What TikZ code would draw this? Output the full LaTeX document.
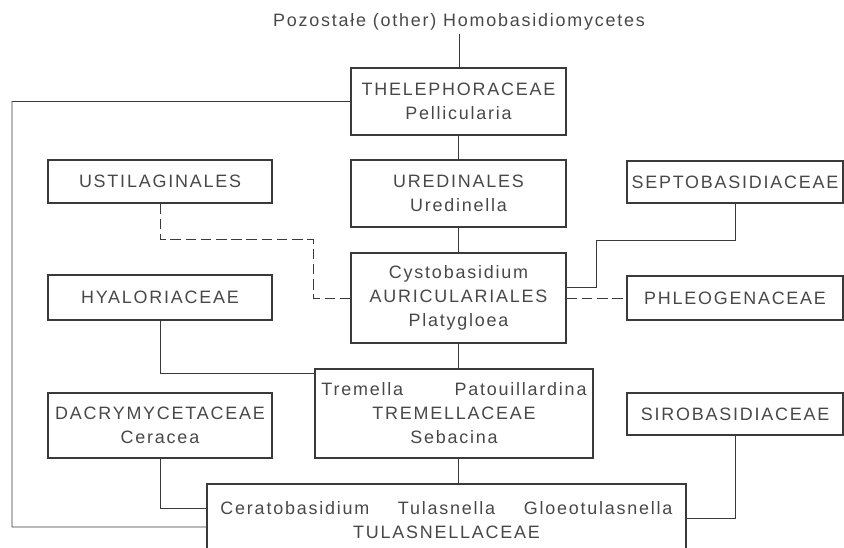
\documentclass[tikz,border=0pt]{standalone}
\usepackage{fontspec}
\setmainfont{Liberation Sans}
\newfontfamily\letteringfont{Liberation Sans}[LetterSpace=10]
\usepackage{xcolor}
\usepackage{tikz}
\definecolor{ink}{HTML}{3A3A3A}
\definecolor{lettering}{HTML}{484848}

\begin{document}
\begin{tikzpicture}[
  x=0.03cm, y=-0.03cm,
  font=\letteringfont\fontsize{15.3}{20.5}\selectfont,
  taxon/.style={draw=ink, line width=1.1pt, align=center, inner sep=0pt, text=lettering, minimum width=6.45cm},
  link/.style={draw=ink, line width=0.6pt},
  weak/.style={link, dash pattern=on 9pt off 4pt}
]
\useasboundingbox (0,0) rectangle (844,547);
\clip (0,0) rectangle (844,547);
\fill[white] (0,0) rectangle (844,547);

\node[text=lettering] (title) at (459,22) {Pozostałe (other) Homobasidiomycetes};
\node[taxon, minimum height=2.01cm] (thel) at (458.5,101.5) {THELEPHORACEAE\\Pellicularia};
\node[taxon, minimum height=2.01cm] (ured) at (458.5,193.5) {UREDINALES\\Uredinella};
\node[taxon, minimum width=6.72cm, minimum height=1.29cm] (ustil) at (160,181.5) {USTILAGINALES};
\node[taxon, minimum width=6.48cm, minimum height=1.26cm] (septo) at (735,182) {SEPTOBASIDIACEAE};
\node[taxon, minimum height=2.7cm] (auric) at (458.5,298) {Cystobasidium\\AURICULARIALES\\Platygloea};
\node[taxon, minimum width=6.72cm, minimum height=1.35cm] (hyalo) at (160,297.5) {HYALORIACEAE};
\node[taxon, minimum width=6.48cm, minimum height=1.32cm] (phleo) at (735,298) {PHLEOGENACEAE};
\node[taxon, minimum width=8.34cm, minimum height=2.67cm] (trem) at (454,413.5) {\makebox[7.95cm]{Tremella\hfill Patouillardina}\\TREMELLACEAE\\Sebacina};
\node[taxon, minimum width=6.72cm, minimum height=1.95cm] (dacry) at (160,425.5) {DACRYMYCETACEAE\\Ceracea};
\node[taxon, minimum width=6.48cm, minimum height=1.26cm] (siro) at (735,414) {SIROBASIDIACEAE};
\node[taxon, minimum width=14.37cm, minimum height=2.19cm] (tulas) at (446.5,520.5) {\makebox[13.56cm]{Ceratobasidium\hfill Tulasnella\hfill Gloeotulasnella}\\TULASNELLACEAE};

\coordinate (lft) at (12,527);
\coordinate (ustilbend) at (313,239);
\coordinate (septobend) at (596,240);

\draw[link] (title.south) -- (title.south |- thel.north);
\draw[link] (thel.west) -| (lft) -- ([yshift=-0.195cm]tulas.west);
\draw[link] (thel.south) -- (ured.north);
\draw[link] (ured.south) -- (auric.north);
\draw[weak] (ustil.south) |- (ustilbend) |- (auric.west);
\draw[link] (septo.south) |- (septobend) |- ([yshift=0.33cm]auric.east);
\draw[weak] (auric.east) -- (phleo.west);
\draw[link] (hyalo.south) |- ([yshift=-0.15cm]trem.north west);
\draw[link] (auric.south) -- (auric.south |- trem.north);
\draw[link] (auric.south |- trem.south) -- (auric.south |- tulas.north);
\draw[link] (dacry.south) |- ([yshift=0.375cm]tulas.west);
\draw[link] (siro.south) |- ([yshift=0.075cm]tulas.east);
\end{tikzpicture}
\end{document}
